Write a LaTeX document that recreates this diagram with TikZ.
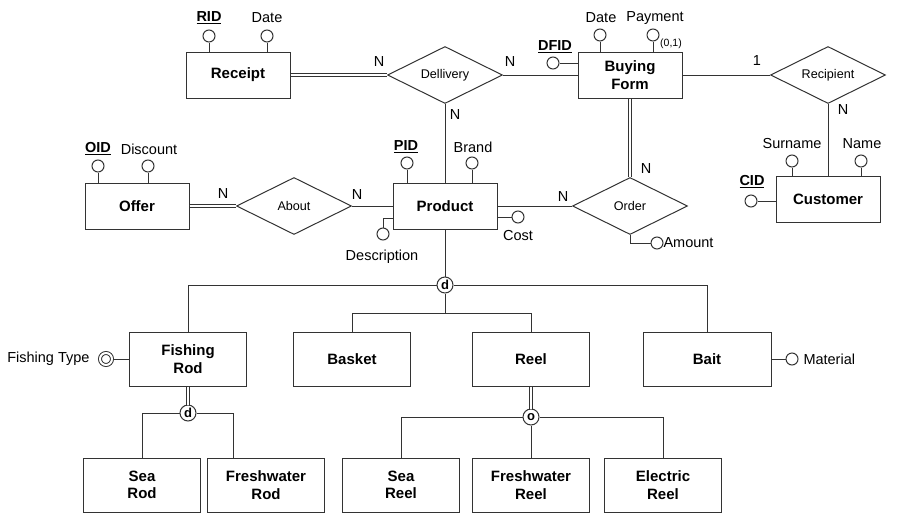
\documentclass[tikz,border=0pt]{standalone}
\usepackage{fontspec}
\setmainfont{Liberation Sans}
\usetikzlibrary{shapes.geometric}
\usetikzlibrary{calc}

\begin{document}
\begin{tikzpicture}[x=1pt, y=-1pt, line width=1pt, draw=black!80,
  entity/.style={draw, rectangle, fill=white, inner sep=0pt, align=center,
    minimum width=104pt, minimum height=46pt,
    font=\fontsize{15}{17.5}\selectfont\bfseries},
  subent/.style={entity, minimum width=117pt, minimum height=54pt},
  rel/.style={draw, diamond, aspect=2, inner sep=0pt, fill=white,
    minimum width=115pt, minimum height=57pt,
    font=\fontsize{12.6}{14}\selectfont},
  attr/.style={draw, circle, fill=white, inner sep=0pt, minimum size=12pt},
  lbl/.style={inner sep=0pt, font=\fontsize{14.5}{16}\selectfont},
  keylbl/.style={inner sep=0pt, font=\fontsize{14.5}{16}\selectfont\bfseries},
  isa/.style={draw, circle, fill=white, inner sep=0pt, minimum size=16pt,
    font=\fontsize{13}{13}\selectfont\bfseries},
  dbl/.style={double, double distance=2.2pt}]

  \useasboundingbox (0,0) rectangle (901,522);

  % entities
  \node[entity] (receipt)  at (238,75)  {Receipt};
  \node[entity] (buying)   at (630,75)  {Buying\\Form};
  \node[entity] (customer) at (828,199) {Customer};
  \node[entity] (offer)    at (137,206) {Offer};
  \node[entity] (product)  at (445,206) {Product};

  \node[subent] (rod)    at (188,359) {Fishing\\Rod};
  \node[subent] (basket) at (352,359) {Basket};
  \node[subent] (reel)   at (531,359) {Reel};
  \node[subent, minimum width=128pt] (bait) at (707,359) {Bait};

  \node[subent] (searod)  at (142,485) {Sea\\Rod};
  \node[subent] (fwrod)   at (266,485) {Freshwater\\Rod};
  \node[subent] (seareel) at (401,485) {Sea\\Reel};
  \node[subent] (fwreel)  at (531,485) {Freshwater\\Reel};
  \node[subent] (elreel)  at (663,485) {Electric\\Reel};

  % relationships
  \node[rel] (delivery)  at (445,75)  {Dellivery};
  \node[rel] (recipient) at (828,75)  {Recipient};
  \node[rel] (about)     at (294,206) {About};
  \node[rel] (order)     at (630,206) {Order};

  \draw[dbl] (receipt.east) -- (delivery.west);
  \draw (delivery.east) -- (buying.west);
  \draw (delivery.south) -- (product.north);
  \draw (buying.east) -- (recipient.west);
  \draw (recipient.south) -- (customer.north);
  \draw[dbl] (offer.east) -- (about.west);
  \draw (about.east) -- (product.west);
  \draw (product.east) -- (order.west);
  \draw[dbl] (buying.south) -- (order.north);

  % cardinalities
  \node[lbl] (cRecDel) at (379,62)  {N};
  \node[lbl] (cDelBuy) at (510,62)  {N};
  \node[lbl] (cDelPro) at (455,115) {N};
  \node[lbl] (cBuyRec) at (757,61)  {1};
  \node[lbl] (cRecCus) at (843,110) {N};
  \node[lbl] (cOffAbo) at (223,194) {N};
  \node[lbl] (cAboPro) at (357,195) {N};
  \node[lbl] (cProOrd) at (563,197) {N};
  \node[lbl] (cBuyOrd) at (646,169) {N};

  % attributes on top of the boxes
  \foreach \a/\x/\y/\e in {RID/209/36/receipt, RDate/267/36/receipt,
      BDate/600/35/buying, Payment/653/35/buying,
      Surname/792/161/customer, Name/861/161/customer,
      OID/98/166/offer, Discount/148/166/offer,
      PID/407/163/product, Brand/472/163/product}{%
    \node[attr] (a\a) at (\x,\y) {};
    \draw (a\a) -- (a\a |- \e.north);
  }
  \foreach \a/\x/\y/\t in {RDate/267/18/Date, BDate/601/18/Date,
      Payment/655/18/Payment, Surname/792/144/Surname, Name/862/144/Name,
      Discount/149/149/Discount, Brand/473/147/Brand}{%
    \node[lbl] (t\a) at (\x,\y) {\t};
  }
  \foreach \a/\x/\y in {RID/209/18, OID/98/149, PID/406/147}{%
    \node[keylbl] (t\a) at (\x,\y) {\underline{\a}};
  }
  \node[inner sep=0pt, font=\fontsize{10.5}{12}\selectfont] (tOpt) at (671,44) {(0,1)};

  % attributes on the sides
  \node[attr] (aDFID) at (553,63) {};
  \draw (aDFID) -- (aDFID -| buying.west);
  \node[keylbl] (tDFID) at (555,47) {\underline{DFID}};

  \node[attr] (aCID) at (751,201) {};
  \draw (aCID) -- (aCID -| customer.west);
  \node[keylbl] (tCID) at (752,182) {\underline{CID}};

  \node[attr] (aCost) at (518,217) {};
  \draw (aCost) -- (aCost -| product.east);
  \node[lbl] (tCost) at (518,236) {Cost};

  \node[attr] (aDesc) at (383,234) {};
  \draw (aDesc) |- ([yshift=-12pt]product.west);
  \node[lbl] (tDesc) at (382,257) {Description};

  \node[attr] (aAmount) at (657,243) {};
  \draw (order.south) |- (aAmount);
  \node[lbl, anchor=west] (tAmount) at (663,243) {Amount};

  \node[attr] (aMaterial) at (792,359) {};
  \draw (aMaterial) -- (aMaterial -| bait.east);
  \node[lbl, anchor=west] (tMaterial) at (803,359) {Material};

  \node[attr, double, double distance=2pt, minimum size=12pt] (aType) at (106,359) {};
  \draw (aType) -- (aType -| rod.west);
  \node[lbl, anchor=east] (tType) at (90,359) {Fishing Type};

  % specializations
  \node[isa] (isa1) at (445,285) {d};
  \node[isa] (isa2) at (188,413) {d};
  \node[isa] (isa3) at (531,417) {o};
  \coordinate (j1) at (445,313);

  \draw (product.south) -- (isa1.north);
  \draw (isa1.south) -- (j1);
  \draw (isa1.west) -| (rod.north);
  \draw (isa1.east) -| (bait.north);
  \draw (j1) -| (basket.north);
  \draw (j1) -| (reel.north);

  \draw[dbl] (rod.south) -- (isa2.north);
  \draw (isa2.west) -| (searod.north);
  \draw (isa2.east) -| ([xshift=26pt]fwrod.north west);

  \draw[dbl] (reel.south) -- (isa3.north);
  \draw (isa3.west) -| (seareel.north);
  \draw (isa3.east) -| (elreel.north);
  \draw (isa3.south) -- (fwreel.north);
\end{tikzpicture}
\end{document}
